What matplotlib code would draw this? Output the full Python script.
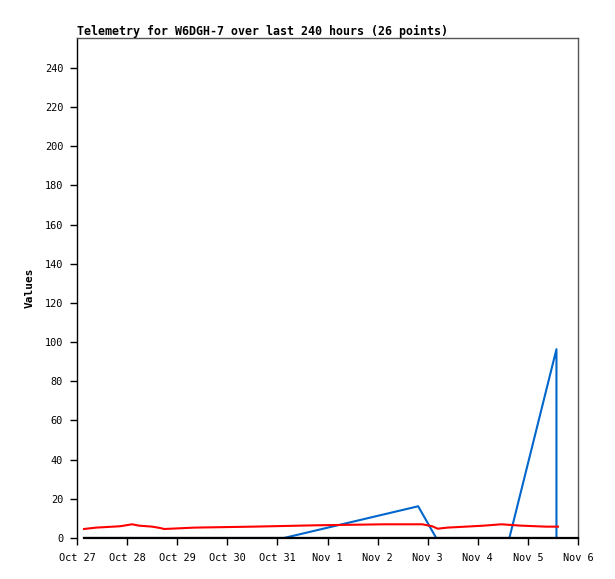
import matplotlib
matplotlib.use("Agg")
import matplotlib.pyplot as plt

# days since Oct 27 00:00
day_labels = ["Oct 27", "Oct 28", "Oct 29", "Oct 30", "Oct 31",
              "Nov 1", "Nov 2", "Nov 3", "Nov 4", "Nov 5", "Nov 6"]

red_days = [0.14, 0.38, 0.86, 1.10, 1.24, 1.50, 1.66, 1.74, 2.34, 3.52, 4.80,
            6.14, 6.89, 7.09, 7.20, 7.39, 7.76, 8.12, 8.47, 8.87, 9.36, 9.60]
red_vals = [4.6, 5.3, 6.0, 7.0, 6.3, 5.8, 5.1, 4.6, 5.3, 5.8, 6.5,
            7.0, 7.0, 6.0, 4.75, 5.3, 5.8, 6.3, 7.0, 6.3, 5.8, 5.8]

blue_days = [0.14, 4.13, 6.81, 7.17, 8.63, 9.57, 9.57]
blue_vals = [0, 0, 16.2, 0, 0, 96.4, 0]

black_days = [0.14, 9.60]
black_vals = [0, 0]

title = "Telemetry for W6DGH-7 over last 240 hours (26 points)"
mono = "DejaVu Sans Mono"

fig = plt.figure(figsize=(6.15, 5.79), dpi=100)
ax = fig.add_axes([77 / 615, 41 / 579, 501 / 615, 500 / 579])

ax.plot(blue_days, blue_vals, color="#0066cc", linewidth=1.5)
ax.plot(red_days, red_vals, color="#ff0000", linewidth=1.5)
ax.plot(black_days, black_vals, color="black", linewidth=1.5)

ax.set_xlim(0, 10)
ax.set_ylim(0, 255.3)
ax.set_xticks(range(len(day_labels)))
ax.set_xticklabels(day_labels)
ax.set_yticks(range(0, 241, 20))

for side in ["top", "right"]:
    ax.spines[side].set_color("#555555")
    ax.spines[side].set_linewidth(1)
ax.spines["left"].set_linewidth(1)
ax.spines["bottom"].set_linewidth(1.6)
ax.spines["bottom"].set_bounds(0.14, 10)

ax.tick_params(axis="both", direction="out", length=5, width=1, labelsize=7.4)
ax.tick_params(axis="x", pad=6)
ax.tick_params(axis="y", pad=5)
for lbl in ax.get_xticklabels() + ax.get_yticklabels():
    lbl.set_family(mono)

ax.set_title(title, loc="left", fontsize=8.4, fontweight="bold", family=mono, pad=2)
ax.set_ylabel("Values", fontsize=8, fontweight="bold", family=mono, labelpad=7)

fig.savefig("out.png", dpi=100)
